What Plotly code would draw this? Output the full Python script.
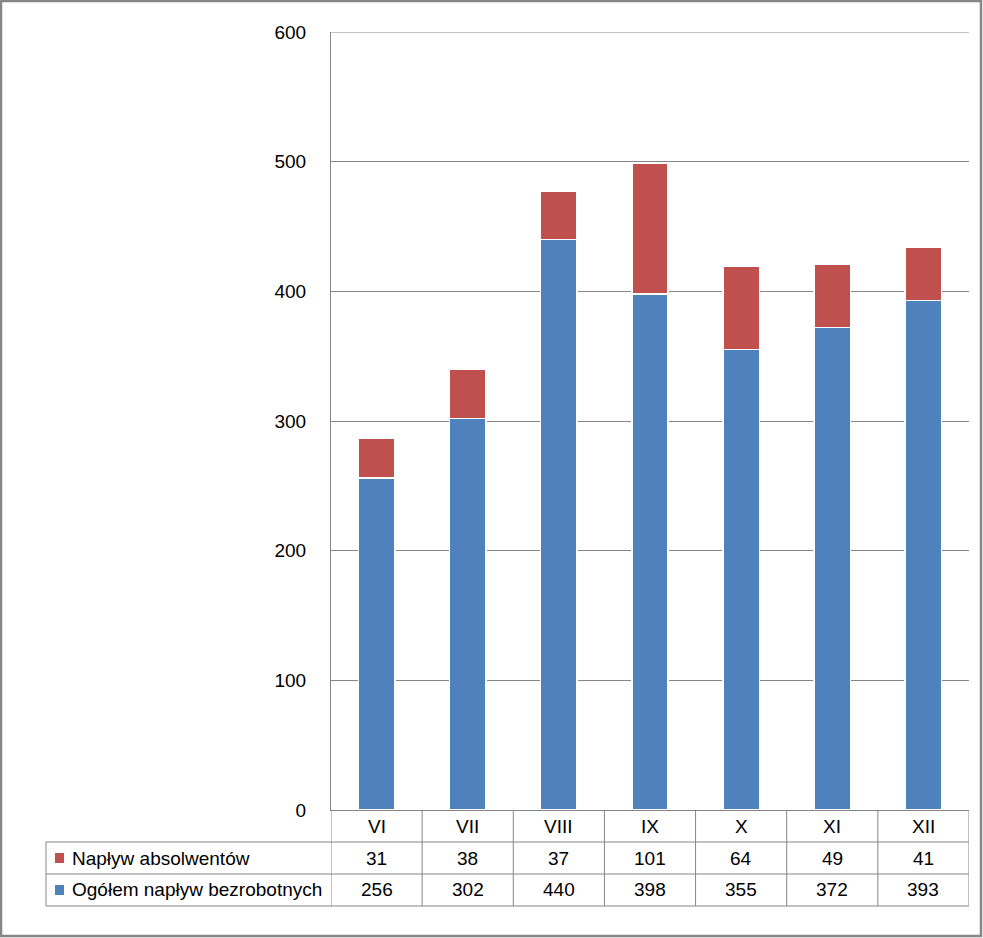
import plotly.graph_objects as go

categories = ["VI", "VII", "VIII", "IX", "X", "XI", "XII"]
ogolem = [256, 302, 440, 398, 355, 372, 393]
absolwenci = [31, 38, 37, 101, 64, 49, 41]
series_names = ["Napływ absolwentów", "Ogółem napływ bezrobotnych"]
y_ticks = [0, 100, 200, 300, 400, 500, 600]

BLUE = "#4F81BD"
RED = "#C0504D"
GRID = "#868686"
FONT = "Liberation Sans, Arial"
FS = 19

W, H = 983, 938
L, R, T, B = 331, 14, 32, 128
pw, ph = W - L - R, H - T - B

def px(xp):
    return (xp - L) / pw

def py(yp):
    return (H - B - yp) / ph

fig = go.Figure()
fig.add_bar(x=categories, y=ogolem, name=series_names[1], marker_color=BLUE,
            marker_line=dict(color="white", width=1.5))
fig.add_bar(x=categories, y=absolwenci, name=series_names[0], marker_color=RED,
            marker_line=dict(color="white", width=1.5))

shapes = []
n = len(categories)
line = dict(color=GRID, width=1)
# top gridline at 600
shapes.append(dict(type="line", xref="paper", yref="y", x0=0, x1=1, y0=600, y1=600,
                   line=line))
# table horizontal lines
for yp in (842, 874, 906):
    shapes.append(dict(type="line", xref="paper", yref="paper", x0=px(46), x1=1,
                       y0=py(yp), y1=py(yp), line=line))
# left border of table rows
shapes.append(dict(type="line", xref="paper", yref="paper", x0=px(46), x1=px(46),
                   y0=py(842), y1=py(906), line=line))
# vertical separators between categories (in table area)
for i in range(n + 1):
    shapes.append(dict(type="line", xref="x", yref="paper", x0=i - 0.5, x1=i - 0.5,
                       y0=py(906), y1=0, line=line))
# outer chart border
shapes.append(dict(type="rect", xref="paper", yref="paper", x0=px(1), x1=px(981),
                   y0=py(1), y1=py(936), line=dict(color="#878787", width=2.5)))

annotations = []
tf = dict(size=FS, color="black", family=FONT)
row_y = {"hdr": py(826), 0: py(858), 1: py(890)}
for i, c in enumerate(categories):
    annotations.append(dict(x=c, y=row_y["hdr"], xref="x", yref="paper", text=c,
                            xanchor="center", yanchor="middle", showarrow=False, font=tf))
    annotations.append(dict(x=c, y=row_y[0], xref="x", yref="paper", text=str(absolwenci[i]),
                            xanchor="center", yanchor="middle", showarrow=False, font=tf))
    annotations.append(dict(x=c, y=row_y[1], xref="x", yref="paper", text=str(ogolem[i]),
                            xanchor="center", yanchor="middle", showarrow=False, font=tf))
for r, (name, col) in enumerate([(series_names[0], RED), (series_names[1], BLUE)]):
    yc = row_y[r]
    shapes.append(dict(type="rect", xref="paper", yref="paper", x0=px(55), x1=px(64),
                       y0=yc - 5 / ph, y1=yc + 5 / ph, fillcolor=col, line=dict(width=0)))
    annotations.append(dict(x=px(70), y=yc, xref="paper", yref="paper", text=name,
                            xanchor="left", yanchor="middle", showarrow=False, font=tf))

fig.update_layout(
    barmode="stack",
    bargap=0.6,
    width=W, height=H,
    margin=dict(l=L, r=R, t=T, b=B, pad=0),
    paper_bgcolor="white", plot_bgcolor="white",
    showlegend=False,
    shapes=shapes,
    annotations=annotations,
    font=dict(family=FONT, size=FS, color="black"),
    xaxis=dict(showticklabels=False, showline=True, linecolor=GRID, linewidth=1,
               showgrid=False, ticks="", range=[-0.5, n - 0.5]),
    yaxis=dict(range=[0, 600], tickvals=y_ticks, showgrid=True, gridcolor=GRID,
               gridwidth=1, showline=True, linecolor=GRID, linewidth=1, ticks="",
               zeroline=False, ticklabelstandoff=20, tickfont=tf),
)

fig.write_html("out.html", config={"displayModeBar": False},
               post_script="document.body.style.margin='0';document.body.style.overflow='hidden';")
